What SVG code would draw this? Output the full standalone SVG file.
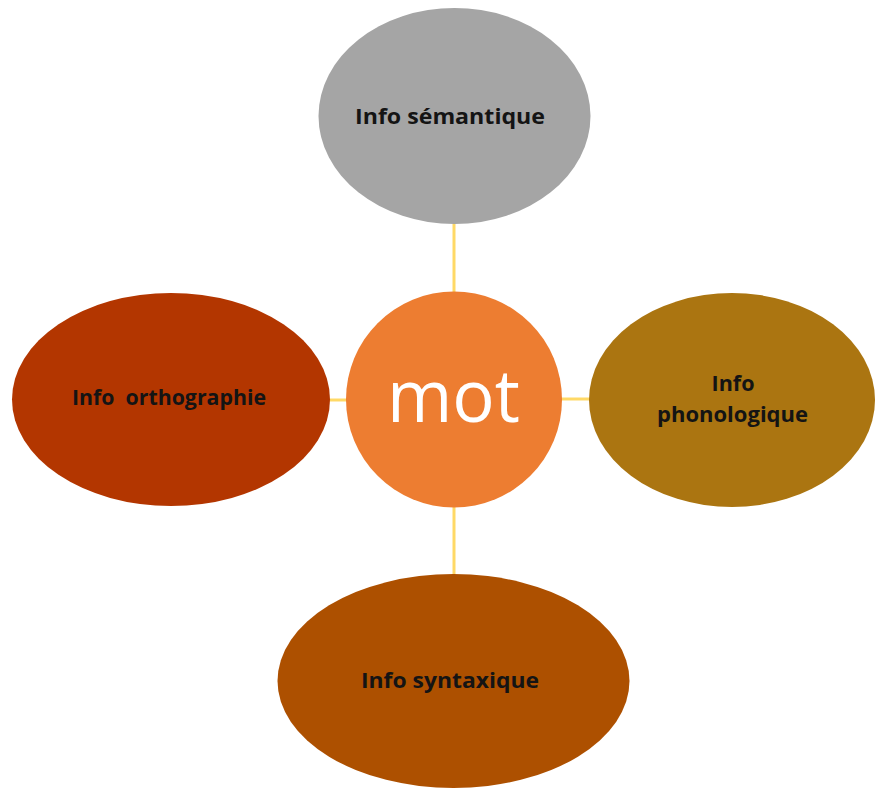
<svg xmlns="http://www.w3.org/2000/svg" width="875" height="788" viewBox="0 0 875 788">
<style>
.lbl{font-family:"Open Sans","DejaVu Sans",sans-serif;font-weight:bold;font-size:22px;fill:#141414;text-anchor:middle}
.conn{stroke:#FFD966;stroke-width:3;fill:none}
</style>
<rect width="875" height="788" fill="#ffffff"/>
<g id="connectors">
<line class="conn" x1="454" y1="223" x2="454" y2="293"/>
<line class="conn" x1="329" y1="400" x2="347" y2="400"/>
<line class="conn" x1="561" y1="399" x2="590" y2="399"/>
<line class="conn" x1="454" y1="506" x2="454" y2="575"/>
</g>
<g id="semantique">
<ellipse cx="454.5" cy="116" rx="136" ry="108" fill="#A5A5A5"/>
<text class="lbl" x="450" y="124" textLength="190" lengthAdjust="spacingAndGlyphs">Info sémantique</text>
</g>
<g id="orthographie">
<ellipse cx="171" cy="399.5" rx="159" ry="106.5" fill="#B33600"/>
<text class="lbl" x="169" y="405" textLength="194" lengthAdjust="spacingAndGlyphs" xml:space="preserve">Info  orthographie</text>
</g>
<g id="phonologique">
<ellipse cx="732" cy="400" rx="143" ry="107" fill="#AB7511"/>
<text class="lbl" x="733" y="391" textLength="43" lengthAdjust="spacingAndGlyphs">Info</text>
<text class="lbl" x="732.5" y="422" textLength="151" lengthAdjust="spacingAndGlyphs">phonologique</text>
</g>
<g id="syntaxique">
<ellipse cx="453.5" cy="681" rx="176" ry="107" fill="#AD5000"/>
<text class="lbl" x="450" y="688" textLength="178" lengthAdjust="spacingAndGlyphs">Info syntaxique</text>
</g>
<g id="mot">
<circle cx="454" cy="399.5" r="108" fill="#ED7D31"/>
<text x="453.5" y="422" font-family="Open Sans, DejaVu Sans, sans-serif" font-size="74" fill="#ffffff" text-anchor="middle" textLength="133" lengthAdjust="spacingAndGlyphs">mot</text>
</g>
</svg>
